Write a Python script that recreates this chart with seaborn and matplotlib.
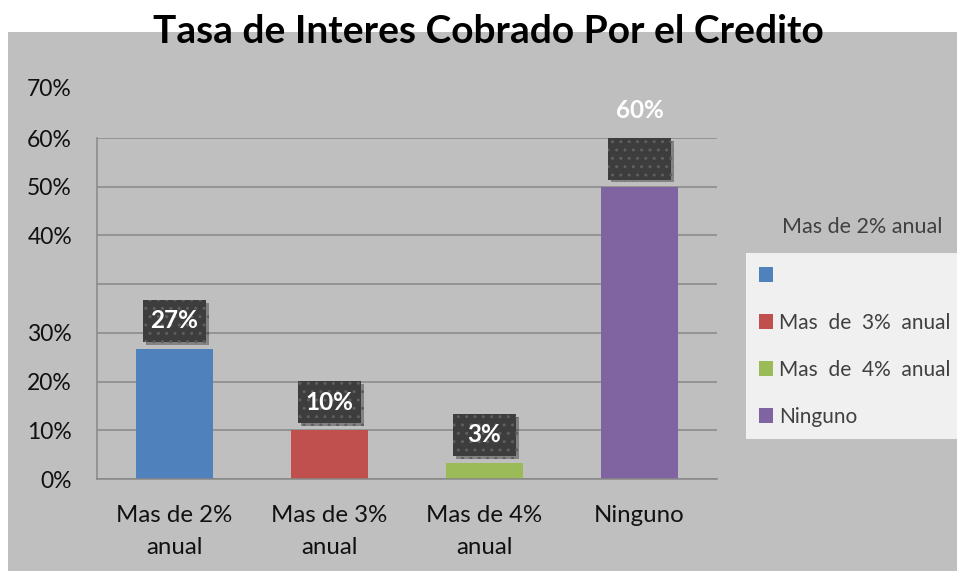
import matplotlib
matplotlib.use('Agg')
import matplotlib.pyplot as plt
import matplotlib.patheffects as pe
from matplotlib.patches import Rectangle, Patch
import pandas as pd
import seaborn as sns

# data
categories = ['Mas de 2%\nanual', 'Mas de 3%\nanual', 'Mas de 4%\nanual', 'Ninguno']
values = [26.7, 10.0, 3.3, 60.0]
value_labels = ['27%', '10%', '3%', '60%']
colors = ['#4f81bd', '#c0504d', '#9bbb59', '#8064a2']
legend_title = 'Mas de 2% anual'
legend_labels = ['', 'Mas  de  3%  anual', 'Mas  de  4%  anual', 'Ninguno']
ytick_values = [0, 10, 20, 30, 40, 50, 60, 70]
ytick_labels = ['0%', '10%', '20%', '30%', '', '40%', '50%', '60%']
extra_ytick_value = 80
extra_ytick_label = '70%'
title = 'Tasa de Interes Cobrado Por el Credito'

sns.set_style('white')
plt.rcParams['font.family'] = ['Lato', 'DejaVu Sans']

fig = plt.figure(figsize=(9.57, 5.71), dpi=100)
fig.patch.set_facecolor('white')
# gray chart area
fig.patches.append(Rectangle((8 / 957, 0), 1, 1 - 32 / 571, transform=fig.transFigure,
                             facecolor='#bfbfbf', edgecolor='none', zorder=-10))

ax = fig.add_axes([97 / 957, 92 / 571, 620 / 957, 341 / 571])
ax.set_facecolor('#bfbfbf')

df = pd.DataFrame({'cat': categories, 'val': values})
sns.barplot(data=df, x='cat', y='val', hue='cat', palette=colors, width=0.5,
            saturation=1, linewidth=0, legend=False, ax=ax)

ax.set_xlim(-0.5, 3.5)
ax.set_ylim(0, 70)
ax.set_xlabel('')
ax.set_ylabel('')
ax.set_axisbelow(True)
ax.yaxis.grid(True, color='#878787', linewidth=1.1)
ax.xaxis.grid(False)
for s in ['top', 'right']:
    ax.spines[s].set_visible(False)
for s in ['left', 'bottom']:
    ax.spines[s].set_color('#878787')
    ax.spines[s].set_linewidth(1.1)

ax.set_yticks(ytick_values)
ax.set_yticklabels(ytick_labels)
ax.tick_params(axis='y', length=6, width=1.1, color='#878787', pad=12,
               labelsize=16.5, labelcolor='#111111')
ax.annotate(extra_ytick_label, xy=(0, extra_ytick_value), xycoords=('axes fraction', 'data'),
            xytext=(-18, 0), textcoords='offset points', ha='right', va='center',
            fontsize=16.5, color='#111111', annotation_clip=False)

ax.set_xticks(range(len(categories)))
ax.set_xticklabels(categories)
ax.set_xticks([i - 0.5 for i in range(len(categories) + 1)], minor=True)
ax.tick_params(axis='x', which='major', length=0, pad=19, labelsize=17.3, labelcolor='#111111')
ax.tick_params(axis='x', which='minor', length=6, width=1.1, color='#878787')
for t in ax.get_xticklabels():
    t.set_linespacing(1.6)

# data labels in dark dotted boxes
box_w, box_h, gap = 0.41, 8.6, 1.44
for i, (v, lab) in enumerate(zip(values, value_labels)):
    y0 = v + gap
    rect = Rectangle((i - box_w / 2, y0), box_w, box_h, facecolor='#3d3d3d',
                     edgecolor='#5f5f5f', hatch='..', linewidth=0, zorder=4,
                     path_effects=[pe.SimplePatchShadow(offset=(2, -2), alpha=0.35), pe.Normal()])
    rect.set_clip_on(False)
    ax.add_patch(rect)
    ty = y0 + box_h / 2
    if y0 + box_h >= 69.5:
        ty += 9.9
    ax.text(i, ty, lab, ha='center', va='center', color='white', fontsize=17.5,
            fontweight='bold', zorder=5, clip_on=False)

handles = [Patch(facecolor=c, edgecolor='none') for c in colors]
fig.legend(handles, legend_labels, loc='upper left', bbox_to_anchor=(746 / 957, 1 - 253 / 571),
           frameon=True, fancybox=False, facecolor='#f0f0f0', edgecolor='none', framealpha=1,
           fontsize=15, labelcolor='#404040', handlelength=0.7, handleheight=0.7,
           handletextpad=0.3, labelspacing=1.3, borderpad=0.6, borderaxespad=0)
fig.text(862 / 957, 1 - 227 / 571, legend_title, ha='center', va='center',
         fontsize=15.5, color='#404040')

fig.text(488 / 957, 1 - 43 / 571, title, ha='center', va='baseline',
         fontsize=28, fontweight='bold', color='black')

fig.savefig('out.png', dpi=100)
